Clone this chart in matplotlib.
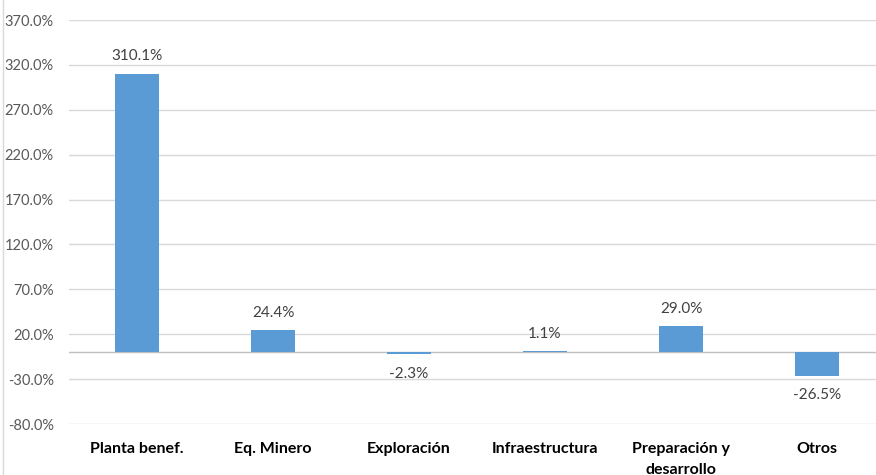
import matplotlib.pyplot as plt
from matplotlib.lines import Line2D

categories = ['Planta benef.', 'Eq. Minero', 'Exploración', 'Infraestructura',
              'Preparación y\ndesarrollo', 'Otros']
values = [310.1, 24.4, -2.3, 1.1, 29.0, -26.5]
yticks = [-80, -30, 20, 70, 120, 170, 220, 270, 320, 370]

plt.rcParams['font.family'] = ['Lato', 'DejaVu Sans']

fig = plt.figure(figsize=(8.76, 4.75), dpi=100)
W, H = 876, 475
ax = fig.add_axes([69 / W, 51 / H, 816 / W, (424 - 20) / H])

x = list(range(len(categories)))
ax.bar(x, values, width=0.32, color='#5B9BD5', zorder=3)

for xi, v in zip(x, values):
    if v >= 0:
        ax.annotate(f'{v:.1f}%', (xi, v), xytext=(0, 7.5), textcoords='offset points',
                    ha='center', va='bottom', fontsize=11, color='#404040')
    else:
        ax.annotate(f'{v:.1f}%', (xi, v), xytext=(0, -9), textcoords='offset points',
                    ha='center', va='top', fontsize=11, color='#404040')

ax.set_xlim(-0.5, len(categories) - 0.5)
ax.set_ylim(-80, 370)
ax.set_yticks(yticks)
ax.set_yticklabels([f'{t:.1f}%' for t in yticks], fontsize=10.5, color='#595959')
ax.set_xticks(x)
ax.set_xticklabels(categories, fontsize=11.5, fontweight='bold', color='black',
                   linespacing=1.6)
ax.tick_params(axis='both', length=0)
ax.tick_params(axis='y', pad=11)
ax.tick_params(axis='x', pad=13)

ax.grid(axis='y', color='#d9d9d9', linewidth=1, zorder=0)
ax.axhline(0, color='#bfbfbf', linewidth=1, zorder=2)
for s in ax.spines.values():
    s.set_visible(False)

# chart area border on the left
fig.add_artist(Line2D([3 / W, 3 / W], [0, 1], color='#d9d9d9', linewidth=1))

fig.savefig('out.png', dpi=100)
